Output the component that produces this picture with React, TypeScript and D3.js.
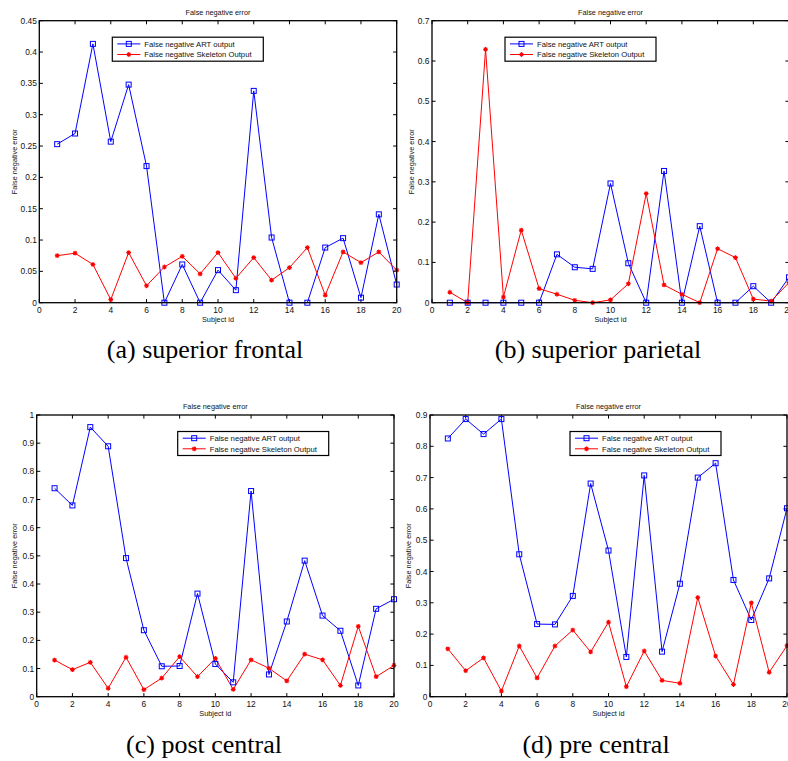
import React from "react";
import * as d3 from "d3";

const subjects = [1, 2, 3, 4, 5, 6, 7, 8, 9, 10, 11, 12, 13, 14, 15, 16, 17, 18, 19, 20];
const xTicks = [0, 2, 4, 6, 8, 10, 12, 14, 16, 18, 20];

// (a) superior frontal
const artA = [0.253, 0.270, 0.413, 0.257, 0.348, 0.218, 0, 0.061, 0, 0.052, 0.020, 0.338, 0.104, 0, 0, 0.088, 0.103, 0.008, 0.141, 0.029];
const skelA = [0.075, 0.079, 0.061, 0.005, 0.080, 0.027, 0.057, 0.074, 0.046, 0.080, 0.039, 0.072, 0.036, 0.056, 0.088, 0.012, 0.081, 0.064, 0.081, 0.052];
const yTicksA = [0, 0.05, 0.1, 0.15, 0.2, 0.25, 0.3, 0.35, 0.4, 0.45];

// (b) superior parietal
const artB = [0, 0, 0, 0, 0, 0, 0.120, 0.088, 0.084, 0.296, 0.098, 0, 0.327, 0, 0.190, 0, 0, 0.041, 0, 0.063];
const skelB = [0.026, 0, 0.629, 0.014, 0.180, 0.035, 0.021, 0.006, 0, 0.007, 0.047, 0.271, 0.044, 0.021, 0, 0.134, 0.112, 0.009, 0.004, 0.050];
const yTicksB = [0, 0.1, 0.2, 0.3, 0.4, 0.5, 0.6, 0.7];

// (c) post central
const artC = [0.740, 0.679, 0.957, 0.889, 0.492, 0.236, 0.108, 0.109, 0.366, 0.116, 0.051, 0.730, 0.079, 0.267, 0.483, 0.288, 0.234, 0.040, 0.312, 0.346];
const skelC = [0.130, 0.096, 0.122, 0.030, 0.140, 0.025, 0.066, 0.142, 0.071, 0.136, 0.026, 0.131, 0.101, 0.056, 0.151, 0.131, 0.040, 0.250, 0.071, 0.111];
const yTicksC = [0, 0.1, 0.2, 0.3, 0.4, 0.5, 0.6, 0.7, 0.8, 0.9, 1];

// (d) pre central
const artD = [0.825, 0.887, 0.839, 0.887, 0.455, 0.232, 0.231, 0.322, 0.681, 0.467, 0.127, 0.707, 0.144, 0.361, 0.700, 0.746, 0.373, 0.245, 0.378, 0.602];
const skelD = [0.153, 0.083, 0.124, 0.018, 0.162, 0.060, 0.162, 0.213, 0.143, 0.238, 0.032, 0.146, 0.052, 0.043, 0.317, 0.130, 0.039, 0.300, 0.078, 0.163];
const yTicksD = [0, 0.1, 0.2, 0.3, 0.4, 0.5, 0.6, 0.7, 0.8, 0.9];

const titleText = "False negative error";
const yLabelText = "False negative error";
const xLabelText = "Subject id";
const legendLabels = ["False negative ART output", "False negative Skeleton Output"];
const captions = ["(a) superior frontal", "(b) superior parietal", "(c) post central", "(d) pre central"];

const BLUE = "#0000ff";
const RED = "#ff0000";
const FONT = "'Liberation Sans', Arial, Helvetica, sans-serif";

const panels = [
  { left: 39.3, right: 396.7, top: 20.7, bottom: 302.7, yMax: 0.45, yTicks: yTicksA, art: artA, skel: skelA, legendDx: 73, ylabDx: 25, cap: captions[0], capX: 205, capY: 358 },
  { left: 432, right: 789, top: 20.7, bottom: 302.7, yMax: 0.7, yTicks: yTicksB, art: artB, skel: skelB, legendDx: 73, ylabDx: 21, cap: captions[1], capX: 598, capY: 358 },
  { left: 36.7, right: 394, top: 415, bottom: 696.7, yMax: 1, yTicks: yTicksC, art: artC, skel: skelC, legendDx: 141, ylabDx: 22, cap: captions[2], capX: 204, capY: 753 },
  { left: 430, right: 787, top: 415, bottom: 696.7, yMax: 0.9, yTicks: yTicksD, art: artD, skel: skelD, legendDx: 140, ylabDx: 22, cap: captions[3], capX: 596, capY: 753 },
];

function Star({ x, y, r = 2.4 }: { x: number; y: number; r?: number }) {
  const d = r * 0.707;
  return (
    <g stroke={RED} strokeWidth={1.1}>
      <circle cx={x} cy={y} r={1.6} fill={RED} stroke="none" />
      <line x1={x - r} y1={y} x2={x + r} y2={y} />
      <line x1={x} y1={y - r} x2={x} y2={y + r} />
      <line x1={x - d} y1={y - d} x2={x + d} y2={y + d} />
      <line x1={x - d} y1={y + d} x2={x + d} y2={y - d} />
    </g>
  );
}

function Square({ x, y, s = 5 }: { x: number; y: number; s?: number }) {
  return <rect x={x - s / 2} y={y - s / 2} width={s} height={s} fill="none" stroke={BLUE} strokeWidth={1} />;
}

const fmt = (v: number) => d3.format("~g")(+v.toFixed(4));

function Panel({ p, idx }: { p: (typeof panels)[number]; idx: number }) {
  const x = d3.scaleLinear().domain([0, 20]).range([p.left, p.right]);
  const y = d3.scaleLinear().domain([0, p.yMax]).range([p.bottom, p.top]);
  const line = d3.line<number>().x((_, i) => x(subjects[i])).y((v) => y(v));
  const tick = 3.6;
  const midX = (p.left + p.right) / 2;
  const midY = (p.top + p.bottom) / 2;
  const lx = p.left + p.legendDx;
  const ly = p.top + 16.5;
  const clipId = `clip${idx}`;
  return (
    <g>
      <defs>
        <clipPath id={clipId}>
          <rect x={p.left - 6} y={p.top - 6} width={p.right - p.left + 12} height={p.bottom - p.top + 12} />
        </clipPath>
      </defs>
      <rect x={p.left} y={p.top} width={p.right - p.left} height={p.bottom - p.top} fill="white" />
      {/* ticks */}
      {xTicks.map((t) => (
        <g key={"x" + t}>
          <line x1={x(t)} x2={x(t)} y1={p.bottom} y2={p.bottom - tick} stroke="black" strokeWidth={1} />
          <line x1={x(t)} x2={x(t)} y1={p.top} y2={p.top + tick} stroke="black" strokeWidth={1} />
          <text x={x(t)} y={p.bottom + 10.5} fontSize={8.4} textAnchor="middle" fontFamily={FONT} fill="#111">
            {t}
          </text>
        </g>
      ))}
      {p.yTicks.map((t) => (
        <g key={"y" + t}>
          <line x1={p.left} x2={p.left + tick} y1={y(t)} y2={y(t)} stroke="black" strokeWidth={1} />
          <line x1={p.right} x2={p.right - tick} y1={y(t)} y2={y(t)} stroke="black" strokeWidth={1} />
          <text x={p.left - 2.5} y={y(t) + 3} fontSize={8.4} textAnchor="end" fontFamily={FONT} fill="#111">
            {fmt(t)}
          </text>
        </g>
      ))}
      {/* series */}
      <g clipPath={`url(#${clipId})`}>
        <path d={line(p.art) || ""} fill="none" stroke={BLUE} strokeWidth={1} />
        <path d={line(p.skel) || ""} fill="none" stroke={RED} strokeWidth={1} />
        {p.art.map((v, i) => (
          <Square key={"a" + i} x={x(subjects[i])} y={y(v)} />
        ))}
        {p.skel.map((v, i) => (
          <Star key={"s" + i} x={x(subjects[i])} y={y(v)} />
        ))}
      </g>
      <rect x={p.left} y={p.top} width={p.right - p.left} height={p.bottom - p.top} fill="none" stroke="black" strokeWidth={1.3} />
      {/* legend */}
      <rect x={lx} y={ly} width={151} height={24} fill="white" stroke="black" strokeWidth={1.2} />
      <line x1={lx + 5} x2={lx + 28} y1={ly + 6.7} y2={ly + 6.7} stroke={BLUE} strokeWidth={1} />
      <Square x={lx + 16.5} y={ly + 6.7} />
      <text x={lx + 32} y={ly + 9.5} fontSize={7.7} fontFamily={FONT} fill="#111">
        {legendLabels[0]}
      </text>
      <line x1={lx + 5} x2={lx + 28} y1={ly + 17.3} y2={ly + 17.3} stroke={RED} strokeWidth={1} />
      <Star x={lx + 16.5} y={ly + 17.3} />
      <text x={lx + 32} y={ly + 20.1} fontSize={7.7} fontFamily={FONT} fill="#111">
        {legendLabels[1]}
      </text>
      {/* labels */}
      <text x={midX} y={p.top - 6} fontSize={7.3} textAnchor="middle" fontFamily={FONT} fill="#111">
        {titleText}
      </text>
      <text x={midX} y={p.bottom + 19} fontSize={7.3} textAnchor="middle" fontFamily={FONT} fill="#111">
        {xLabelText}
      </text>
      <text
        transform={`translate(${p.left - p.ylabDx + 2.5},${midY}) rotate(-90)`}
        fontSize={7.3}
        textAnchor="middle"
        fontFamily={FONT}
        fill="#111"
      >
        {yLabelText}
      </text>
      <text x={p.capX} y={p.capY} fontSize={26} textAnchor="middle" fontFamily="'Liberation Serif', 'Times New Roman', serif" fill="black">
        {p.cap}
      </text>
    </g>
  );
}

export default function App() {
  return (
    <svg width={788} height={761} style={{ position: "absolute", left: 0, top: 0, background: "white" }}>
      <rect x={0} y={0} width={788} height={761} fill="white" />
      {panels.map((p, i) => (
        <Panel key={i} p={p} idx={i} />
      ))}
    </svg>
  );
}
